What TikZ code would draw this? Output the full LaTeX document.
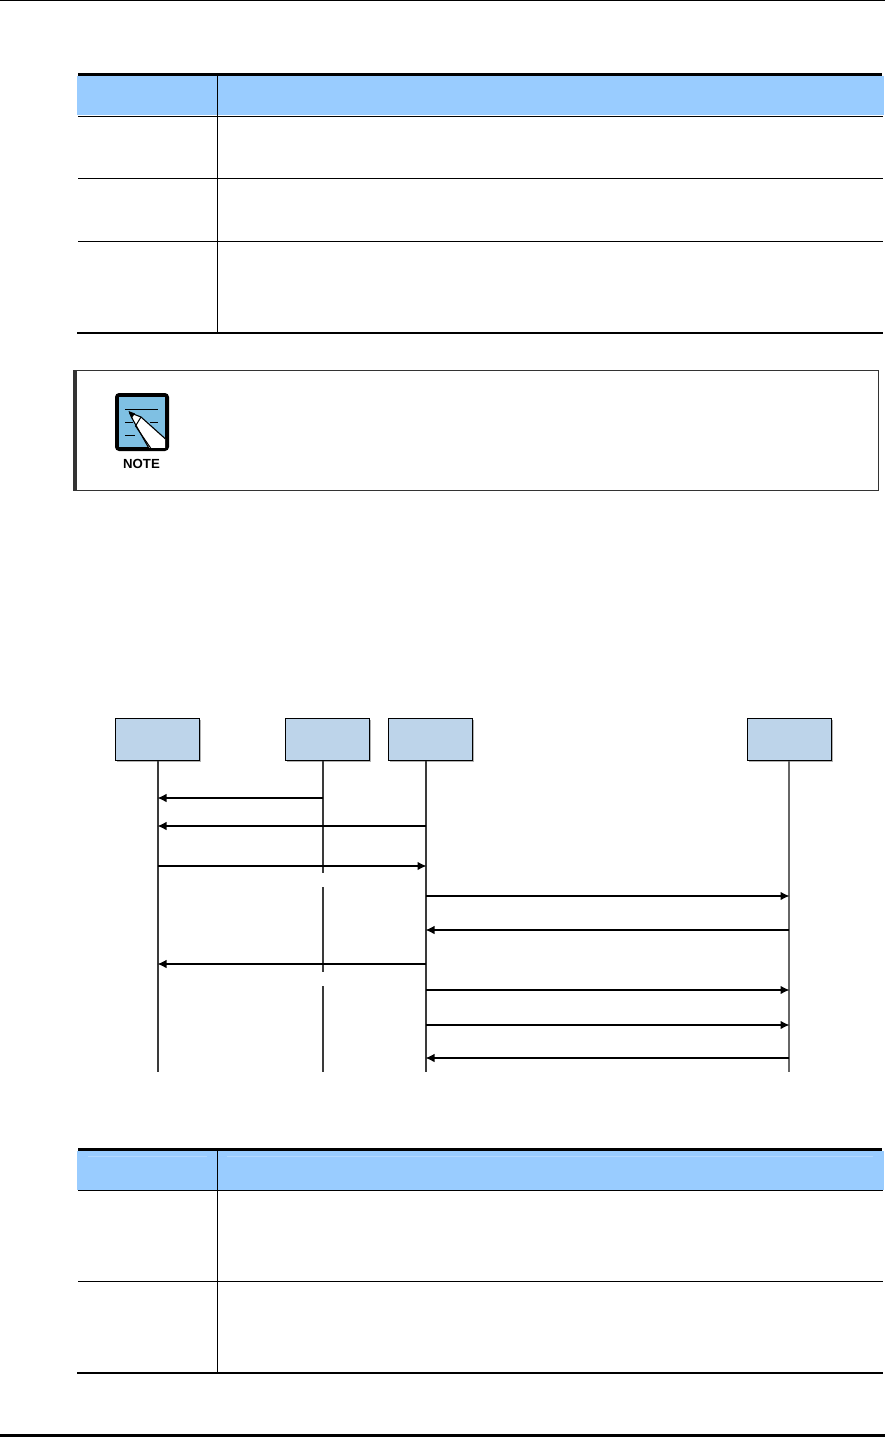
\documentclass[tikz,border=0pt]{standalone}
\usepackage{fontspec}
\setmainfont{Liberation Sans}
\usetikzlibrary{arrows.meta}
\definecolor{headblue}{HTML}{99CCFF}
\definecolor{headlight}{HTML}{B3D9FF}
\definecolor{boxblue}{HTML}{BDD4EA}
\definecolor{iconblue}{HTML}{7FC0E3}
\definecolor{lifegrey}{HTML}{3A3A3A}
\tikzset{
  x=1pt,y=-1pt,
  rule/.style={line width=1.1pt,black},
  thickrule/.style={line width=3pt,black},
  closerule/.style={line width=2.3pt,black},
  headfill/.style={fill=headblue,draw=none},
  party/.style={draw=black,line width=1pt,fill=boxblue,minimum width=84pt,minimum height=42pt,inner sep=0pt,outer sep=0pt},
  partyshade/.style={fill=black!30,draw=none},
  life/.style={line width=1.6pt,lifegrey},
  msg/.style={line width=1.2pt,black,-{Latex[length=9pt,width=8.5pt]},shorten >=-0.5pt},
  iconline/.style={line width=0.8pt,black},
}
\begin{document}
\begin{tikzpicture}
\useasboundingbox (0,0) rectangle (885,1437);
\fill[white] (0,0) rectangle (885,1437);
% page rules
\fill[black] (0,0) rectangle (885,1.5);
\fill[black] (0,1434) rectangle (885,1437);

% table 1
\path[headfill] (77,76) rectangle (884,115);
\draw[thickrule] (78,74.5) -- (882,74.5);
\draw[rule] (78,116.5) -- (883,116.5);
\draw[rule] (78,178.5) -- (883,178.5);
\draw[rule] (78,241.5) -- (883,241.5);
\draw[closerule] (77,333) -- (883,333);
\draw[rule] (217.5,76) -- (217.5,333);

% note box
\draw[draw=black!80,line width=1.2pt] (73.5,370.5) rectangle (878.5,490.5);
\fill[black!80] (73,370) rectangle (76.5,491);
\begin{scope}
  \fill[black,rounded corners=4pt] (115,393) rectangle (169,451);
  \begin{scope}
    \clip (119,397) rectangle (165,447);
    \fill[iconblue] (119,397) rectangle (165,447);
    \draw[line width=1.6pt] (125,409.5) -- (158,409.5);
    \draw[iconline] (125,422) -- (133,422) (150,422) -- (158,422);
    \draw[iconline] (125,435) -- (135,435);
    \fill[white,draw=black,line width=1.1pt,line join=round] (129.5,412.5) -- (141,417) -- (170,443) -- (170,452) -- (151,452) -- (133,420) -- cycle;
    \draw[line width=1pt] (141,417) -- (135.5,426) -- (152,450);
    \fill[black] (128.5,411) -- (135,413.5) -- (131.5,418.5) -- cycle;
  \end{scope}
\end{scope}
\node[font=\fontsize{13.2}{15}\selectfont\bfseries,inner sep=0pt] (notelabel) at (141.5,464) {NOTE};

% sequence diagram: shadows
\path[partyshade] (117,720) rectangle (201,762);
\path[partyshade] (287,720) rectangle (371,762);
\path[partyshade] (390,720) rectangle (474,762);
\path[partyshade] (749,720) rectangle (833,762);
\node[party] (p1) at (157.5,739.5) {};
\node[party] (p2) at (327.5,739.5) {};
\node[party] (p3) at (430.5,739.5) {};
\node[party] (p4) at (789.5,739.5) {};

% lifeline ends
\coordinate (p1top) at (158,760.5);
\coordinate (p2top) at (323,760.5);
\coordinate (p3top) at (426,760.5);
\coordinate (p4top) at (789,760.5);
\coordinate (p1end) at (158,1071.5);
\coordinate (p3end) at (426,1071.5);
\coordinate (p4end) at (789,1071.5);
\coordinate (p2a) at (323,873);
\coordinate (p2b) at (323,887);
\coordinate (p2c) at (323,972);
\coordinate (p2d) at (323,986);
\coordinate (p2end) at (323,1071.5);
\draw[life] (p1top) -- (p1end);
\draw[life] (p2top) -- (p2a);
\draw[life] (p2b) -- (p2c);
\draw[life] (p2d) -- (p2end);
\draw[life] (p3top) -- (p3end);
\draw[life,black!60] (p4top) -- (p4end);

% message anchor points
\foreach \n/\y in {a/798,b/826,c/866,d/896,e/930,f/964,g/990,h/1025,i/1058}{
  \coordinate (l\n) at (158,\y);
  \coordinate (m\n) at (323,\y);
  \coordinate (n\n) at (426,\y);
  \coordinate (r\n) at (789,\y);
}
\draw[msg] (ma) -- (la);
\draw[msg] (nb) -- (lb);
\draw[msg] (lc) -- (nc);
\draw[msg] (nd) -- (rd);
\draw[msg] (re) -- (ne);
\draw[msg] (nf) -- (lf);
\draw[msg] (ng) -- (rg);
\draw[msg] (nh) -- (rh);
\draw[msg] (ri) -- (ni);

% table 2
\path[headfill] (77,1151) rectangle (884,1190);
\fill[headlight] (88,1155.7) rectangle (207,1156.9);
\fill[headlight] (227,1155.7) rectangle (873,1156.9);
\draw[thickrule] (78,1149.5) -- (882,1149.5);
\draw[rule] (78,1190.5) -- (883,1190.5);
\draw[rule] (78,1281.5) -- (883,1281.5);
\draw[closerule] (77,1373) -- (883,1373);
\draw[rule] (217.5,1151) -- (217.5,1373);
\end{tikzpicture}
\end{document}
